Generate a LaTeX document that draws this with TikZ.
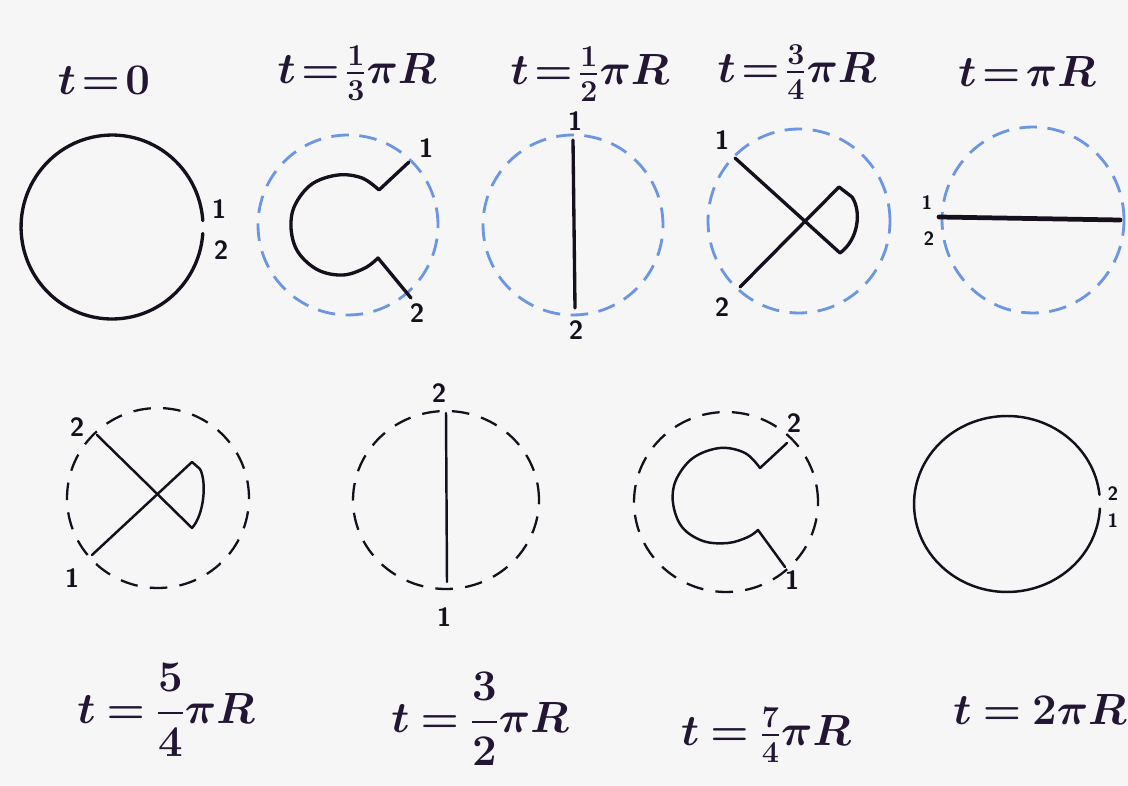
\documentclass[tikz,border=0pt]{standalone}
\usepackage{amsmath}
\definecolor{inkc}{RGB}{22,16,28}
\definecolor{labc}{RGB}{34,22,52}
\definecolor{dashblue}{RGB}{108,150,226}
\definecolor{paper}{RGB}{246,246,246}
\newcommand\tightm{\thickmuskip=2mu plus 1mu\relax}
\newcommand\loosem{\thickmuskip=4mu plus 1mu\relax}
\begin{document}
\begin{tikzpicture}[x=0.02cm,y=-0.02cm,
  inkline/.style={draw=inkc, line width=1.9pt, line cap=round, line join=round},
  thinline/.style={draw=inkc, line width=1.4pt, line cap=round, line join=round},
  heavyline/.style={draw=inkc, line width=2.7pt, line cap=round},
  bluedash/.style={draw=dashblue, line width=1.6pt, dash pattern=on 10pt off 6pt},
  blackdash/.style={draw=inkc, line width=1.3pt, dash pattern=on 10pt off 7pt},
  toplab/.style={text=labc, inner sep=0pt, font=\fontsize{24}{28}\selectfont\boldmath},
  botlab/.style={text=labc, inner sep=0pt, font=\fontsize{26}{30}\selectfont\boldmath},
  endlab/.style={text=inkc, inner sep=0pt, font=\fontsize{15}{18}\selectfont\sffamily\bfseries},
  smalllab/.style={text=inkc, inner sep=0pt, font=\fontsize{11}{13}\selectfont\sffamily\bfseries}]
\useasboundingbox (0,0) rectangle (1128,786);
\fill[paper] (0,0) rectangle (1128,786);

% ---------- top row titles
\node[toplab] (l0) at (104,80) {$\tightm t=0$};
\node[toplab] (l1) at (357,73) {$\tightm t=\tfrac{1}{3}\pi R$};
\node[toplab] (l2) at (590,74) {$\tightm t=\tfrac{1}{2}\pi R$};
\node[toplab] (l3) at (797,72) {$\tightm t=\tfrac{3}{4}\pi R$};
\node[toplab] (l4) at (1027,72) {$\tightm t=\pi R$};

% ---------- panel 1: t=0
\draw[inkline] (202.8,220.6) arc[start angle=4, end angle=356, x radius=1.82cm, y radius=1.84cm];
\node[endlab] (p1a) at (219,209) {1};
\node[endlab] (p1b) at (221,250) {2};

% ---------- panel 2: t=1/3 pi R
\draw[bluedash] (348,225) circle[radius=1.8cm];
\draw[inkline] (409,162) -- plot[smooth, tension=0.6] coordinates {(379,190) (362,178) (338,175) (312,184) (295,205) (291,228) (298,252) (318,270) (343,275) (365,268) (378,258)} -- (411,298);
\node[endlab] (p2a) at (426,148) {1};
\node[endlab] (p2b) at (417,313) {2};

% ---------- panel 3: t=1/2 pi R
\draw[bluedash] (573,225) circle[radius=1.8cm];
\draw[inkline] (573,140) -- (575,308);
\node[endlab] (p3a) at (575,121) {1};
\node[endlab] (p3b) at (576,330) {2};

% ---------- panel 4: t=3/4 pi R
\draw[bluedash] (799,221) circle[x radius=1.82cm, y radius=1.84cm];
\draw[inkline] (735,158) -- (840,253) .. controls (858,240) and (862,212) .. (852,197) -- (839,187) -- (740,287);
\node[endlab] (p4a) at (722,140) {1};
\node[endlab] (p4b) at (722,307) {2};

% ---------- panel 5: t=pi R
\draw[bluedash] (1033,220) circle[x radius=1.82cm, y radius=1.86cm];
\draw[heavyline] (939,217) -- (1120,220);
\node[smalllab] (p5a) at (927,203) {1};
\node[smalllab] (p5b) at (929,239) {2};

% ---------- bottom row titles
\node[botlab] (l5) at (166,710) {$\loosem t=\dfrac{5}{4}\pi R$};
\node[botlab] (l6) at (480,719) {$\loosem t=\dfrac{3}{2}\pi R$};
\node[botlab] (l7) at (766,735) {$\loosem t=\tfrac{7}{4}\pi R$};
\node[botlab] (l8) at (1040,710) {$\loosem t=2\pi R$};

% ---------- panel 6: t=5/4 pi R
\draw[blackdash] (158,498) circle[x radius=1.82cm, y radius=1.8cm];
\draw[thinline] (97,435) -- (192,528) .. controls (204,515) and (207,482) .. (200,469) -- (192,462) -- (92,555);
\node[endlab] (p6a) at (77,427) {2};
\node[endlab] (p6b) at (72,578) {1};

% ---------- panel 7: t=3/2 pi R
\draw[blackdash] (446,500) circle[x radius=1.86cm, y radius=1.78cm];
\draw[thinline] (446,413) -- (447,582);
\node[endlab] (p7a) at (439,393) {2};
\node[endlab] (p7b) at (444,617) {1};

% ---------- panel 8: t=7/4 pi R
\draw[blackdash] (726,502) circle[x radius=1.84cm, y radius=1.8cm];
\draw[thinline] (787,443) -- plot[smooth, tension=0.6] coordinates {(760,468) (745,453) (720,448) (693,458) (676,480) (673,503) (682,527) (703,541) (728,543) (748,537) (758,530)} -- (785,567);
\node[endlab] (p8a) at (794,423) {2};
\node[endlab] (p8b) at (792,580) {1};

% ---------- panel 9: t=2 pi R
\draw[thinline] (1099.5,494.8) arc[start angle=6, end angle=357, x radius=1.86cm, y radius=1.76cm];
\node[smalllab] (p9a) at (1113,494) {2};
\node[smalllab] (p9b) at (1113,521) {1};
\end{tikzpicture}
\end{document}
